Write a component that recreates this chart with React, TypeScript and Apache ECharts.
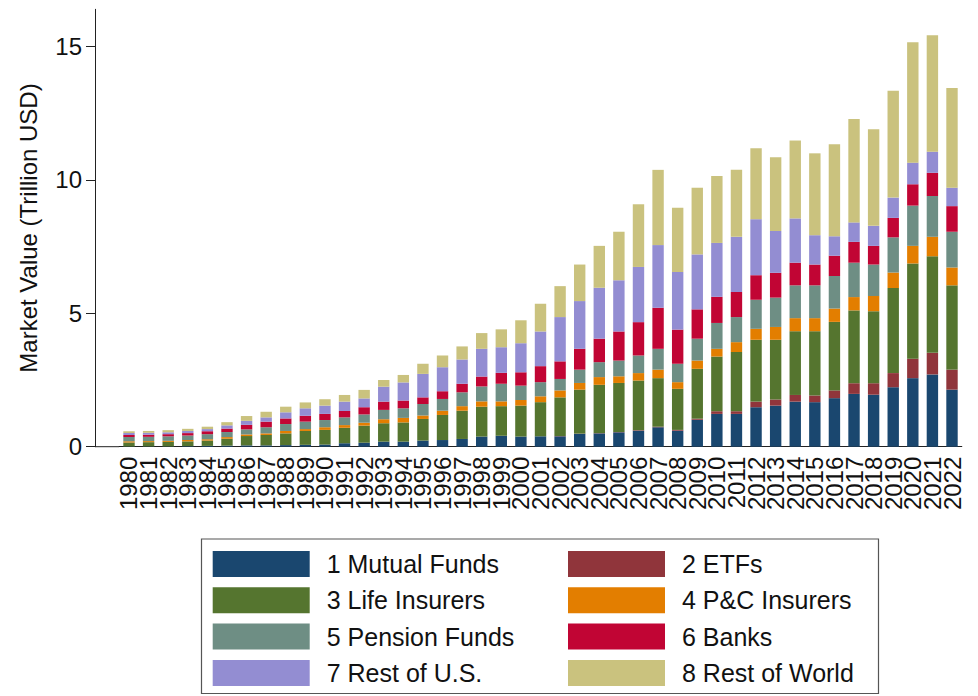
import React, { useEffect, useRef } from "react";
import * as echarts from "echarts";

const years: string[] = [];
for (let y = 1980; y <= 2022; y++) years.push(String(y));

const seriesNames = [
  "1 Mutual Funds",
  "2 ETFs",
  "3 Life Insurers",
  "4 P&C Insurers",
  "5 Pension Funds",
  "6 Banks",
  "7 Rest of U.S.",
  "8 Rest of World",
];

const colors = ["#1a476f", "#90353b", "#55752f", "#e37e00", "#6e8e84", "#c10534", "#938dd2", "#cac27e"];

const mutualFunds = [0.01,0.01,0.01,0.02,0.03,0.04,0.05,0.05,0.06,0.07,0.08,0.13,0.15,0.19,0.19,0.23,0.25,0.29,0.38,0.41,0.38,0.39,0.39,0.48,0.50,0.54,0.60,0.73,0.60,1.01,1.23,1.23,1.48,1.54,1.69,1.67,1.82,1.98,1.95,2.23,2.57,2.71,2.14];
const etfs = [0,0,0,0,0,0,0,0,0,0,0,0,0,0,0,0,0,0,0,0,0,0,0.01,0.01,0.01,0.01,0.02,0.02,0.03,0.04,0.10,0.10,0.21,0.23,0.25,0.25,0.29,0.40,0.43,0.53,0.73,0.81,0.75];
const lifeInsurers = [0.15,0.16,0.17,0.18,0.20,0.26,0.35,0.39,0.44,0.52,0.55,0.58,0.64,0.69,0.72,0.81,0.94,1.06,1.12,1.11,1.16,1.28,1.45,1.65,1.81,1.84,1.86,1.82,1.54,1.87,2.05,2.22,2.32,2.24,2.39,2.41,2.57,2.73,2.70,3.19,3.57,3.62,3.16];
const pcInsurers = [0.04,0.04,0.04,0.05,0.05,0.06,0.06,0.06,0.09,0.07,0.10,0.10,0.11,0.15,0.17,0.13,0.16,0.17,0.20,0.18,0.21,0.22,0.26,0.25,0.29,0.25,0.28,0.32,0.25,0.31,0.29,0.37,0.41,0.48,0.49,0.49,0.50,0.50,0.57,0.58,0.66,0.73,0.67];
const pensionFunds = [0.16,0.16,0.17,0.17,0.19,0.19,0.19,0.23,0.26,0.28,0.27,0.29,0.31,0.35,0.36,0.43,0.44,0.52,0.56,0.66,0.54,0.53,0.43,0.50,0.56,0.59,0.66,0.78,0.69,0.82,0.97,0.94,1.09,1.10,1.23,1.23,1.22,1.29,1.18,1.32,1.51,1.53,1.34];
const banks = [0.08,0.08,0.08,0.09,0.11,0.13,0.17,0.21,0.21,0.22,0.23,0.24,0.27,0.31,0.29,0.25,0.29,0.32,0.37,0.41,0.50,0.60,0.66,0.78,0.88,1.09,1.25,1.54,1.28,1.10,0.98,0.94,0.92,0.93,0.85,0.78,0.76,0.78,0.70,0.73,0.80,0.87,0.96];
const restOfUS = [0.07,0.07,0.07,0.08,0.08,0.12,0.15,0.16,0.23,0.28,0.31,0.35,0.33,0.56,0.68,0.88,0.90,0.91,1.04,0.96,1.09,1.30,1.66,1.79,1.91,1.92,2.07,2.35,2.16,2.06,2.02,2.07,2.10,1.57,1.66,1.10,0.73,0.73,0.75,0.76,0.81,0.79,0.69];
const restOfWorld = [0.07,0.07,0.08,0.08,0.09,0.12,0.18,0.21,0.21,0.22,0.24,0.25,0.32,0.25,0.28,0.38,0.44,0.49,0.59,0.67,0.86,1.04,1.16,1.37,1.57,1.82,2.35,2.82,2.41,2.50,2.51,2.51,2.66,2.76,2.92,3.07,3.45,3.88,3.62,4.01,4.51,4.37,3.74];

const yTicks = [0, 5, 10, 15];

const seriesValues = [mutualFunds, etfs, lifeInsurers, pcInsurers, pensionFunds, banks, restOfUS, restOfWorld];

const FONT = "Liberation Sans, Arial, Helvetica, sans-serif";

export default function App() {
  const ref = useRef<HTMLDivElement>(null);
  useEffect(() => {
    if (!ref.current) return;
    const chart = echarts.init(ref.current, null, { renderer: "svg" });
    const gridLeft = 119.2;
    const gridBottom = 249.3;
    const axisY = 696 - gridBottom;
    const legendCommon = {
      orient: "vertical" as const,
      top: 551,
      itemWidth: 97,
      itemHeight: 26,
      itemGap: 10.3,
      padding: 0,
      icon: "rect",
      selectedMode: false,
      textStyle: { fontSize: 25, color: "#111", fontFamily: FONT, padding: [0, 0, 0, 12] },
    };
    chart.setOption({
      animation: false,
      color: colors,
      textStyle: { fontFamily: FONT },
      grid: { left: gridLeft, right: 16.2, top: 9.3, bottom: gridBottom, containLabel: false },
      xAxis: {
        type: "category",
        data: years,
        axisTick: { show: false },
        axisLine: { lineStyle: { color: "#222", width: 1 } },
        axisLabel: { rotate: 90, interval: 0, fontSize: 24, color: "#111", margin: 10, fontFamily: FONT },
      },
      yAxis: {
        type: "value",
        min: 0,
        max: 16.4,
        offset: gridLeft - 95,
        name: "Market Value (Trillion USD)",
        nameLocation: "middle",
        nameGap: 55,
        nameTextStyle: { fontSize: 24, color: "#111", fontFamily: FONT },
        axisLine: { show: true, lineStyle: { color: "#222", width: 1 } },
        axisTick: { show: true, length: 9, customValues: yTicks, lineStyle: { color: "#222" } },
        axisLabel: { fontSize: 24, color: "#111", margin: 13, customValues: yTicks, fontFamily: FONT },
        splitLine: { show: false },
      },
      legend: [
        { ...legendCommon, left: 212.7, data: [seriesNames[0], seriesNames[2], seriesNames[4], seriesNames[6]] },
        { ...legendCommon, left: 568, data: [seriesNames[1], seriesNames[3], seriesNames[5], seriesNames[7]] },
      ],
      graphic: [
        {
          type: "line",
          shape: { x1: 95, y1: axisY, x2: gridLeft, y2: axisY },
          style: { stroke: "#222", lineWidth: 1 },
        },
        {
          type: "rect",
          shape: { x: 201.5, y: 539, width: 677, height: 154.5 },
          style: { fill: "none", stroke: "#555", lineWidth: 1.2 },
        },
      ],
      series: seriesNames.map((name, i) => ({
        name,
        type: "bar",
        stack: "total",
        barWidth: 11.4,
        data: seriesValues[i],
        itemStyle: { color: colors[i] },
      })),
    });
    return () => chart.dispose();
  }, []);
  return (
    <div
      ref={ref}
      style={{ position: "fixed", left: 0, top: 0, width: 978, height: 696, background: "#fff" }}
    />
  );
}
